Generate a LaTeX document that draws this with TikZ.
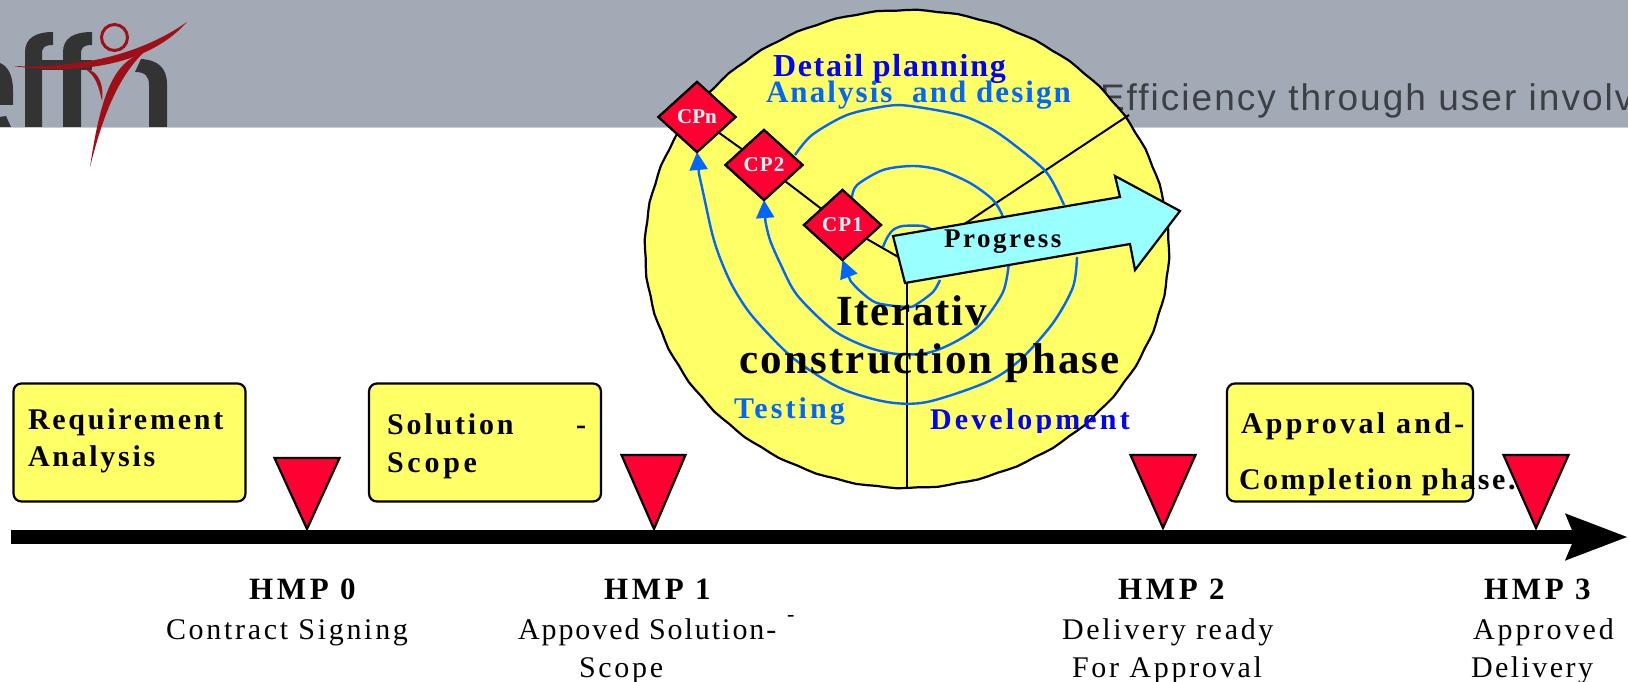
\documentclass[tikz,border=0pt]{standalone}
\usepackage{fontspec}
\usetikzlibrary{shapes.geometric,arrows.meta}
\setmainfont{Liberation Serif}
\newfontfamily\logosans{Liberation Sans}
\definecolor{band}{HTML}{A2ABB5}
\definecolor{logodark}{HTML}{333333}
\definecolor{logored}{HTML}{A00F18}
\definecolor{bandtext}{HTML}{3C3F44}
\definecolor{sunny}{HTML}{FFFF66}
\definecolor{signal}{HTML}{FF0033}
\definecolor{skyblue}{HTML}{0066FF}
\definecolor{pureblue}{HTML}{0000FF}
\definecolor{aqua}{HTML}{99FFFF}
\newcommand{\spaced}[3]{\fontsize{#1}{#1}\selectfont\addfontfeature{LetterSpace=#2}#3}
\tikzset{
  x=1pt,y=-1pt,
  lbl/.style={anchor=base west,inner sep=0pt,outer sep=0pt},
  phasebox/.style={rectangle,rounded corners=8pt,draw=black,line width=2.2pt,fill=sunny,minimum width=232pt,minimum height=118pt,inner sep=0pt},
  gate/.style={diamond,draw=black,line width=2.2pt,fill=signal,inner sep=0pt,outer sep=0pt,aspect=1.1,minimum width=77pt,minimum height=70pt,text=white,font=\bfseries},
  marker/.style={draw=black,line width=2.2pt,fill=signal,line join=miter},
  spiral/.style={draw=skyblue,line width=2.4pt,line join=round},
  spiralhead/.style={draw=skyblue,line width=2.4pt,-{Triangle[length=18pt,width=18pt,fill=skyblue]}},
  spoke/.style={draw=black,line width=2pt},
}
\begin{document}
\begin{tikzpicture}
\useasboundingbox (0,0) rectangle (1628,682);
% header band
\fill[band] (0,0) rectangle (1628,127);
\draw[color=band!60!white,line width=1pt] (0,127.5) -- (1628,127.5);
% logo letters
\fill[logodark] (0,63) .. controls (8,66) and (13,76) .. (13,90) -- (13,105) -- (0,105) -- cycle;
\fill[logodark] (0,117) -- (6,116) -- (11,127) -- (0,127) -- cycle;
\fill[logodark] (25,127) -- (25,52) .. controls (25,38) and (36,32) .. (53,32) -- (53,45) .. controls (45,45) and (42,47) .. (42,54) -- (42,127) -- cycle;
\fill[logodark] (63,127) -- (63,52) .. controls (63,38) and (74,32) .. (92,32) -- (92,45) .. controls (84,45) and (81,47) .. (81,54) -- (81,127) -- cycle;
\fill[logodark] (25,60) rectangle (92,70);
\fill[logodark] (135,72) -- (141,59) .. controls (158,60) and (167,68) .. (167,84) -- (167,127) -- (149,127) -- (149,85) .. controls (149,76) and (145,72) .. (135,72) -- cycle;
% logo figure
\draw[logored,line width=3pt] (114.5,37.5) circle[radius=13];
\fill[logored] (13,66) .. controls (60,68) and (130,62) .. (187,22) .. controls (145,69) and (70,74) .. (13,66) -- cycle;
\fill[logored] (143,53) .. controls (112,62) and (100,100) .. (90,167) .. controls (103,115) and (118,78) .. (143,53) -- cycle;
\fill[logored] (85,69) .. controls (100,70) and (104,88) .. (102,101) .. controls (99,88) and (96,75) .. (85,69) -- cycle;
% band text
\begin{scope}
\clip (0,0) rectangle (1628,127);
\node[lbl,text=bandtext] (slogan) at (1100,111) {\logosans\spaced{37}{5.5}{Efficiency through user involv}};
\end{scope}
% big circle
\draw[draw=black,line width=2.2pt,fill=sunny,line join=round] plot[domain=0:360,samples=161] ({907+262*(1+0.002*sin(40*\x))*cos(\x)},{249+239*(1+0.002*sin(40*\x))*sin(\x)}) -- cycle;
% diagonal and vertical axes
\coordinate (centre) at (907,262);
\coordinate (rimtop) at (1129,115);
\coordinate (rimbottom) at (907,488);
\coordinate (basea) at (850.5,281);
\coordinate (baseb) at (765.5,222);
\coordinate (basec) at (699,174);
\node[gate] (cpn) at (697,117) {\fontsize{21}{21}\selectfont CPn};
\node[gate] (cp2) at (764,165) {\spaced{21}{5}{CP2}};
\node[gate] (cp1) at (842.5,225) {\spaced{21}{5}{CP1}};
\draw[spoke] (cpn) -- (cp2);
\draw[spoke] (cp2) -- (cp1);
\draw[spoke] (cp1) -- (centre);
\draw[spoke] (centre) -- (rimtop);
\draw[spoke] (centre) -- (rimbottom);
% spirals
\draw[spiral] plot[smooth,tension=0.5] coordinates {(940,280) (933,292) (917,304) (908,307) (877,303) (860,291) (basea)};
\draw[spiralhead] (basea) -- (cp1.south);
\draw[spiral] plot[smooth,tension=0.5] coordinates {(883,247) (887,238) (893,230) (903,226) (923,226) (932,230)};
\draw[spiral] plot[smooth,tension=0.5] coordinates {(852,197) (857,185) (883,170) (913,166) (940,170) (970,183) (993,200) (1003,217) (1006,235)};
\draw[spiral] plot[smooth,tension=0.5] coordinates {(1009,262) (1003,292) (980,325) (953,343) (927,353) (897,354) (867,347) (833,330) (797,295) (780,263) (770,240) (baseb)};
\draw[spiralhead] (baseb) -- (cp2.south);
\draw[spiral] plot[smooth,tension=0.5] coordinates {(795,155) (812,135) (847,115) (887,106) (910,106) (960,115) (990,128) (1017,147) (1047,173) (1064,205)};
\draw[spiral] plot[smooth,tension=0.5] coordinates {(1077,257) (1073,287) (1053,323) (1020,360) (987,382) (927,402) (887,402) (840,388) (793,358) (753,317) (733,287) (720,258) (712,233) (703,192) (basec)};
\draw[spiralhead] (basec) -- (cpn.south);
% redraw gates above spirals
\node[gate] at (cpn) {\fontsize{21}{21}\selectfont CPn};
\node[gate] at (cp2) {\spaced{21}{5}{CP2}};
\node[gate] at (cp1) {\spaced{21}{5}{CP1}};
% progress arrow
\draw[draw=black,line width=2.2pt,fill=aqua,line join=miter] (893,236) -- (1120,197) -- (1115,176) -- (1180,211) -- (1135,270) -- (1130,244) -- (905,283) -- cycle;
\node[lbl,font=\bfseries] (progress) at (944,247) {\spaced{27}{9.5}{Progress}};
% circle labels
\node[lbl,font=\bfseries,text=pureblue] (detail) at (773,77) {\spaced{32}{5.3}{Detail planning}};
\node[lbl,font=\bfseries,text=skyblue] (analysis) at (766,103) {\spaced{31}{6.7}{Analysis\ \ and design}};
\node[lbl,font=\bfseries] (iterativ) at (836,325) {\spaced{43}{4}{Iterativ}};
\node[lbl,font=\bfseries] (construction) at (739,373) {\spaced{43}{5.2}{construction phase}};
\node[lbl,font=\bfseries,text=skyblue] (testing) at (734,418) {\spaced{30}{10.3}{Testing}};
\begin{scope}
\clip (900,395) rectangle (1160,432);
\node[lbl,font=\bfseries,text=pureblue] (development) at (930,429) {\spaced{30}{10.5}{Development}};
\end{scope}
% timeline
\coordinate (tstart) at (11,537);
\coordinate (tend) at (1628,537);
\draw[line width=14pt,-{Stealth[length=61pt,width=44pt,inset=8pt,fill=black]}] (tstart) -- (tend);
% phase boxes
\node[phasebox] (req) at (129.5,442.5) {};
\node[phasebox] (sol) at (485,442.5) {};
\node[phasebox,minimum width=246pt] (app) at (1350,442.5) {};
\node[lbl,font=\bfseries] (reqa) at (28,429) {\spaced{30}{9.2}{Requirement}};
\node[lbl,font=\bfseries] (reqb) at (28,466) {\spaced{30}{9}{Analysis}};
\node[lbl,font=\bfseries] (sola) at (387,434) {\spaced{30}{9.5}{Solution}};
\node[lbl,font=\bfseries] (soldash) at (576,434) {\spaced{30}{0}{-}};
\node[lbl,font=\bfseries] (solb) at (387,472) {\spaced{30}{12.5}{Scope}};
\node[lbl,font=\bfseries] (appa) at (1241,433) {\spaced{30}{11}{Approval and-}};
\node[lbl,font=\bfseries] (appb) at (1239,489) {\spaced{30}{8.5}{Completion phase.}};
% milestone markers
\draw[marker] (274.5,458) -- (339.5,458) -- (307,529) -- cycle;
\draw[marker] (621.5,455) -- (685.5,455) -- (654,529) -- cycle;
\draw[marker] (1130.5,455) -- (1195.5,455) -- (1163,528) -- cycle;
\draw[marker] (1503.5,455) -- (1568.5,455) -- (1536,528) -- cycle;
% milestone texts
\node[lbl,font=\bfseries] (h0) at (249,599) {\spaced{31}{12}{HMP 0}};
\node[lbl] (h0a) at (166,639) {\spaced{30}{9}{Contract Signing}};
\node[lbl,font=\bfseries] (h1) at (604,599) {\spaced{31}{12}{HMP 1}};
\node[lbl] (h1a) at (518,639) {\spaced{30}{6.5}{Appoved Solution-}};
\node[lbl] (h1d) at (787,621) {\spaced{22}{0}{-}};
\node[lbl] (h1b) at (579,677) {\spaced{30}{9}{Scope}};
\node[lbl,font=\bfseries] (h2) at (1118,599) {\spaced{31}{12}{HMP 2}};
\node[lbl] (h2a) at (1062,639) {\spaced{30}{9}{Delivery ready}};
\node[lbl] (h2b) at (1072,677) {\spaced{30}{9.2}{For Approval}};
\node[lbl,font=\bfseries] (h3) at (1484,599) {\spaced{31}{12}{HMP 3}};
\node[lbl] (h3a) at (1473,639) {\spaced{30}{10}{Approved}};
\node[lbl] (h3b) at (1471,677) {\spaced{30}{8.2}{Delivery}};
\end{tikzpicture}
\end{document}
